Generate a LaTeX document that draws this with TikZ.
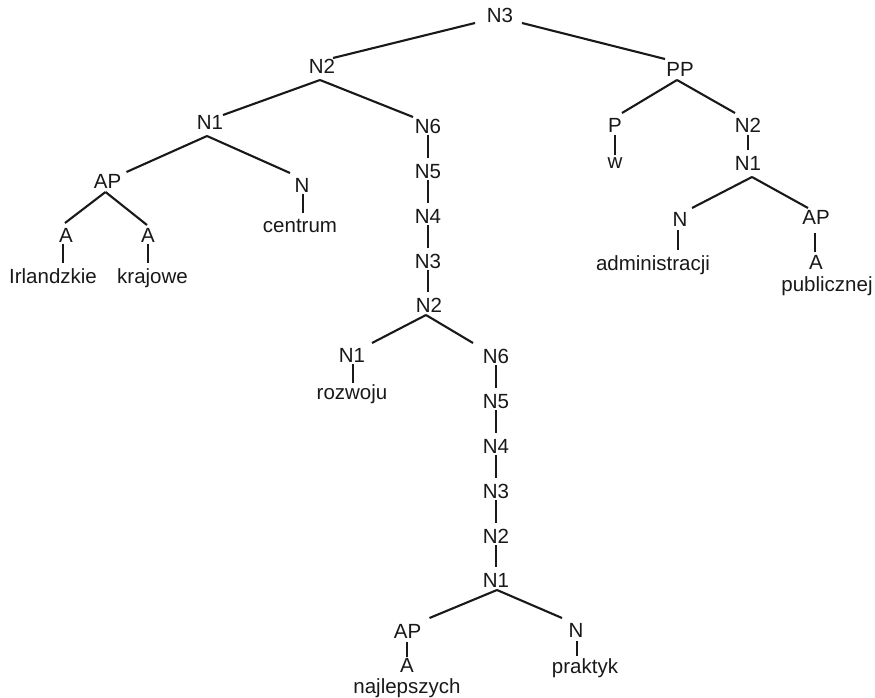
\documentclass[tikz,border=0pt]{standalone}
\usepackage{fontspec}
\setmainfont{Liberation Sans}
\begin{document}
\begin{tikzpicture}[x=1pt,y=-1pt,
  lbl/.style={anchor=base, inner sep=0pt, text=black!90, font=\fontsize{20.5}{24}\selectfont},
  edge/.style={draw=black!90, line width=2.1pt}]
\useasboundingbox[fill=white] (0,0) rectangle (875,698);
% nodes
\node[lbl] (n3) at (500,23) {N3};
\node[lbl] (n2a) at (322,74) {N2};
\node[lbl] (pp) at (680,77) {PP};
\node[lbl] (n1a) at (210,130) {N1};
\node[lbl] (n6a) at (428,133) {N6};
\node[lbl] (apa) at (107.5,188) {AP};
\node[lbl] (na) at (302,192) {N};
\node[lbl] (aa1) at (66,242) {A};
\node[lbl] (aa2) at (148,242) {A};
\node[lbl] (irl) at (53,283) {Irlandzkie};
\node[lbl] (kraj) at (152.5,283) {krajowe};
\node[lbl] (cen) at (300,232) {centrum};
\node[lbl] (n5a) at (428,178) {N5};
\node[lbl] (n4a) at (428,223) {N4};
\node[lbl] (n3a) at (428,268) {N3};
\node[lbl] (n2b) at (429,312) {N2};
\node[lbl] (n1b) at (352,362) {N1};
\node[lbl] (roz) at (352,399) {rozwoju};
\node[lbl] (n6c) at (496,363) {N6};
\node[lbl] (n5c) at (496,408) {N5};
\node[lbl] (n4c) at (496,453) {N4};
\node[lbl] (n3c) at (496,498) {N3};
\node[lbl] (n2c) at (496,543) {N2};
\node[lbl] (n1c) at (496,587) {N1};
\node[lbl] (apc) at (407.5,638) {AP};
\node[lbl] (ac) at (407,672) {A};
\node[lbl] (naj) at (407,693) {najlepszych};
\node[lbl] (nc) at (576,637) {N};
\node[lbl] (prak) at (585,673) {praktyk};
\node[lbl] (p) at (615,132) {P};
\node[lbl] (w) at (615,168) {w};
\node[lbl] (n2d) at (748,132) {N2};
\node[lbl] (n1d) at (748,170) {N1};
\node[lbl] (nd) at (680,226) {N};
\node[lbl] (apd) at (816,224) {AP};
\node[lbl] (adm) at (653,270) {administracji};
\node[lbl] (ad) at (816,269) {A};
\node[lbl] (pub) at (827,291) {publicznej};
% diagonal edges
\path[edge] ([shift={(-25,0)}]n3.base) -- ([shift={(11,-16)}]n2a.base);
\path[edge] ([shift={(22,0)}]n3.base) -- ([shift={(-15,-18)}]pp.base);
\path[edge] ([shift={(-2,6)}]n2a.base) -- ([shift={(13,-15)}]n1a.base);
\path[edge] ([shift={(-2,6)}]n2a.base) -- ([shift={(-15,-16)}]n6a.base);
\path[edge] ([shift={(-3,6)}]n1a.base) -- ([shift={(19,-16)}]apa.base);
\path[edge] ([shift={(-3,6)}]n1a.base) -- ([shift={(-12,-19)}]na.base);
\path[edge] ([shift={(-2,4)}]apa.base) -- ([shift={(-1,-19)}]aa1.base);
\path[edge] ([shift={(-2,4)}]apa.base) -- ([shift={(-1,-17)}]aa2.base);
\path[edge] ([shift={(-3,3)}]n2b.base) -- ([shift={(20,-19)}]n1b.base);
\path[edge] ([shift={(-3,3)}]n2b.base) -- ([shift={(-23,-20)}]n6c.base);
\path[edge] ([shift={(1,3)}]n1c.base) -- ([shift={(22,-20)}]apc.base);
\path[edge] ([shift={(1,3)}]n1c.base) -- ([shift={(-14,-19)}]nc.base);
\path[edge] ([shift={(-3,3)}]pp.base) -- ([shift={(7,-19)}]p.base);
\path[edge] ([shift={(-3,3)}]pp.base) -- ([shift={(-13,-19)}]n2d.base);
\path[edge] ([shift={(4,7)}]n1d.base) -- ([shift={(12,-18)}]nd.base);
\path[edge] ([shift={(4,7)}]n1d.base) -- ([shift={(-8,-16)}]apd.base);
% vertical edges
\path[edge] ([shift={(-3,2)}]aa1.base) -- ([shift={(10,-20)}]irl.base);
\path[edge] ([shift={(0,2)}]aa2.base) -- ([shift={(-4.5,-20)}]kraj.base);
\path[edge] ([shift={(1,2)}]na.base) -- ([shift={(3,-19)}]cen.base);
\path[edge] ([shift={(0,2)}]n6a.base) -- ([shift={(0,-20)}]n5a.base);
\path[edge] ([shift={(0,2)}]n5a.base) -- ([shift={(0,-20)}]n4a.base);
\path[edge] ([shift={(0,2)}]n4a.base) -- ([shift={(0,-20)}]n3a.base);
\path[edge] ([shift={(0,2)}]n3a.base) -- ([shift={(-1,-20)}]n2b.base);
\path[edge] ([shift={(1,2)}]n1b.base) -- ([shift={(1,-16)}]roz.base);
\path[edge] ([shift={(0,2)}]n6c.base) -- ([shift={(0,-20)}]n5c.base);
\path[edge] ([shift={(0,2)}]n5c.base) -- ([shift={(0,-20)}]n4c.base);
\path[edge] ([shift={(0,2)}]n4c.base) -- ([shift={(0,-20)}]n3c.base);
\path[edge] ([shift={(0,2)}]n3c.base) -- ([shift={(0,-20)}]n2c.base);
\path[edge] ([shift={(0,2)}]n2c.base) -- ([shift={(0,-20)}]n1c.base);
\path[edge] ([shift={(-0.5,4)}]apc.base) -- ([shift={(0,-15)}]ac.base);
\path[edge] ([shift={(1,4)}]nc.base) -- ([shift={(-8,-17)}]prak.base);
\path[edge] ([shift={(0,3)}]p.base) -- ([shift={(0,-13)}]w.base);
\path[edge] ([shift={(0,3)}]n2d.base) -- ([shift={(0,-20)}]n1d.base);
\path[edge] ([shift={(-2,4)}]nd.base) -- ([shift={(25,-20)}]adm.base);
\path[edge] ([shift={(-1,9)}]apd.base) -- ([shift={(-1,-17)}]ad.base);
\end{tikzpicture}
\end{document}
